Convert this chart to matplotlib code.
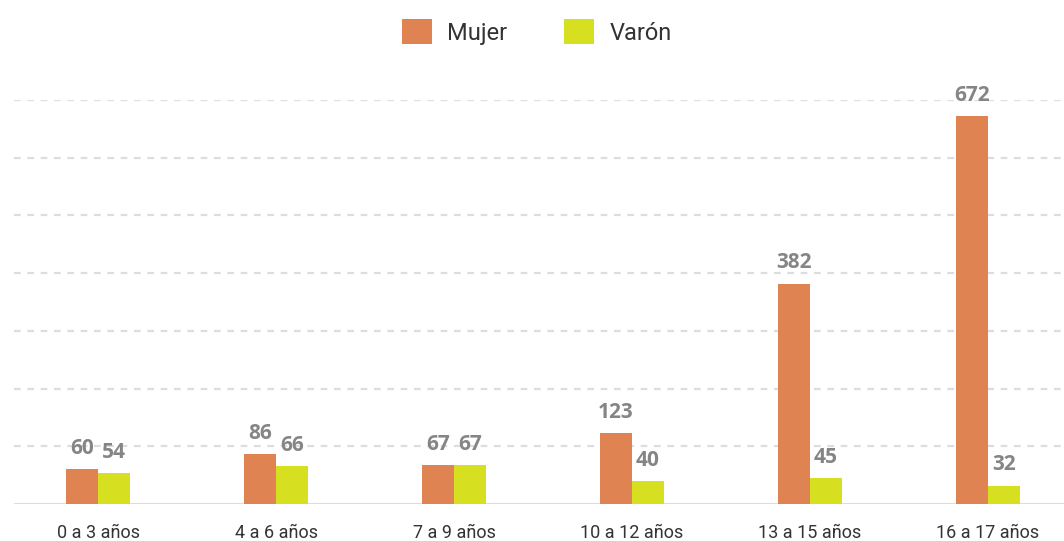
import matplotlib.pyplot as plt
import numpy as np
from matplotlib.patches import Patch

categories = ["0 a 3 años", "4 a 6 años", "7 a 9 años",
              "10 a 12 años", "13 a 15 años", "16 a 17 años"]
mujer = [60, 86, 67, 123, 382, 672]
varon = [54, 66, 67, 40, 45, 32]

C_MUJER = "#E08352"
C_VARON = "#D6E020"

W, H = 1064, 541
fig = plt.figure(figsize=(W / 100, H / 100), dpi=100)
# axes: left 14px, right 1064px, baseline at y=504, 700 at y=100
ax = fig.add_axes([14 / W, (H - 504) / H, 1050 / W, 404 / H])

x = np.arange(len(categories)) * 1.0
bw = 0.18
ax.bar(x - bw / 2, mujer, width=bw, color=C_MUJER, zorder=3)
ax.bar(x + bw / 2, varon, width=bw, color=C_VARON, zorder=3)

label_kw = dict(textcoords="offset points", ha="center", va="baseline",
                fontsize=15, fontweight="bold", color="#858585",
                family=["Open Sans", "DejaVu Sans"], zorder=4)
for xi, v in zip(x, mujer):
    ax.annotate(str(v), (xi - bw / 2, v), xytext=(0, 11), **label_kw)
for xi, v in zip(x, varon):
    ax.annotate(str(v), (xi + bw / 2, v), xytext=(0, 11), **label_kw)

ax.set_xlim(-0.472, 5.427)
ax.set_ylim(0, 700)
ax.set_yticks(np.arange(100, 701, 100))
ax.yaxis.grid(True, color="#dddddd", linestyle=(0, (3, 3)), linewidth=1.6, zorder=0)
ax.axhline(0, color="#dddddd", linewidth=2.2, zorder=2)
ax.tick_params(axis="y", left=False, labelleft=False)
ax.tick_params(axis="x", bottom=False, pad=11)
ax.set_xticks(x)
ax.set_xticklabels(categories, fontsize=13, family="Roboto", color="#333333")
for s in ax.spines.values():
    s.set_visible(False)

handles = [Patch(facecolor=C_MUJER, label="Mujer"),
           Patch(facecolor=C_VARON, label="Varón")]
fig.legend(handles=handles, loc="center", bbox_to_anchor=(537 / W, 1 - 32 / H),
           ncol=2, frameon=False, prop={"family": "Roboto", "size": 17},
           handlelength=1.27, handleheight=1.27, handletextpad=0.65,
           columnspacing=2.4, labelcolor="#333333")

fig.savefig("out.png", dpi=100)
